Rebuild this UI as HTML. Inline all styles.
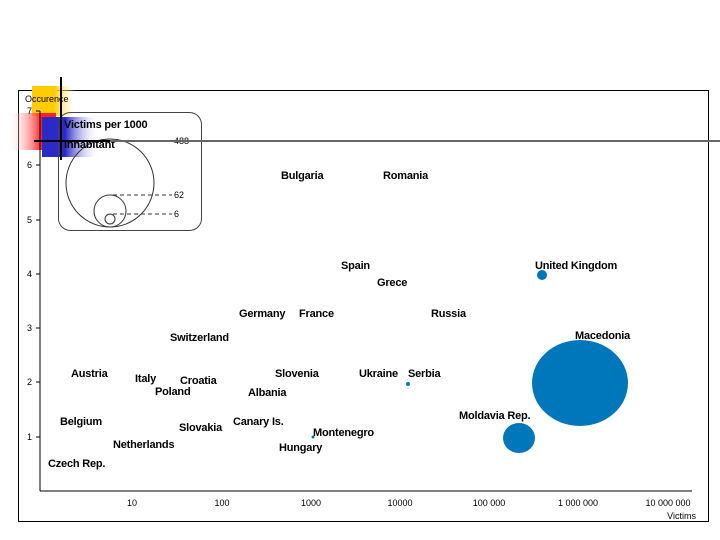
<!DOCTYPE html>
<html><head><style>
body{margin:0;background:#fff;width:720px;height:540px;overflow:hidden;position:relative;font-family:"Liberation Sans",sans-serif}
svg{position:absolute;left:0;top:0}
.l{font-weight:bold;font-size:11px;fill:#000;letter-spacing:-0.2px}
.t{font-size:9px;fill:#000}
</style></head><body>
<svg width="720" height="540" viewBox="0 0 720 540">
<defs>
<linearGradient id="y" x1="0" x2="1"><stop offset="0.5" stop-color="#ffcc00"/><stop offset="1" stop-color="#fff" stop-opacity="0"/></linearGradient>
<linearGradient id="r" x1="1" x2="0"><stop offset="0.3" stop-color="#ff2020"/><stop offset="1" stop-color="#fff" stop-opacity="0"/></linearGradient>
<linearGradient id="b" x1="0" x2="1"><stop offset="0.4" stop-color="#2a2ac8"/><stop offset="1" stop-color="#fff" stop-opacity="0"/></linearGradient>
</defs>
<rect x="18.5" y="90.5" width="690" height="431" fill="none" stroke="#000"/>
<rect x="32" y="86" width="45" height="30" fill="url(#y)"/>
<rect x="8" y="113" width="48" height="37" fill="url(#r)"/>
<rect x="42" y="117" width="58" height="40" fill="url(#b)"/>
<text x="25" y="102" class="t">Occurence</text>
<line x1="40" y1="111" x2="40" y2="491" stroke="#000"/>
<line x1="40" y1="491" x2="692" y2="491" stroke="#000"/>
<g class="t" text-anchor="end">
<text x="32" y="114">7</text><text x="32" y="168">6</text><text x="32" y="223">5</text><text x="32" y="277">4</text><text x="32" y="331">3</text><text x="32" y="385">2</text><text x="32" y="440">1</text>
</g>
<g stroke="#000"><line x1="36" y1="111" x2="40" y2="111"/><line x1="36" y1="165" x2="40" y2="165"/><line x1="36" y1="220" x2="40" y2="220"/><line x1="36" y1="274" x2="40" y2="274"/><line x1="36" y1="328" x2="40" y2="328"/><line x1="36" y1="382" x2="40" y2="382"/><line x1="36" y1="437" x2="40" y2="437"/></g>
<g class="t" text-anchor="middle">
<text x="132" y="506">10</text><text x="222" y="506">100</text><text x="311" y="506">1000</text><text x="400" y="506">10000</text><text x="489" y="506">100 000</text><text x="578" y="506">1 000 000</text><text x="668" y="506">10 000 000</text>
</g>
<text x="696" y="519" class="t" text-anchor="end">Victims</text>
<rect x="58.5" y="112.5" width="143" height="118" rx="12" fill="none" stroke="#444"/>
<circle cx="110" cy="183" r="44" fill="none" stroke="#333"/>
<circle cx="110" cy="211" r="16" fill="none" stroke="#333"/>
<circle cx="110" cy="219" r="5" fill="none" stroke="#333"/>
<g stroke="#333" stroke-dasharray="4,3"><line x1="110" y1="141" x2="172" y2="141"/><line x1="113" y1="195" x2="172" y2="195"/><line x1="113" y1="214" x2="172" y2="214"/></g>
<g class="t"><text x="174" y="144">488</text><text x="174" y="198">62</text><text x="174" y="217">6</text></g>
<text x="64" y="128" class="l">Victims per 1000</text>
<text x="64" y="148" class="l">inhabitant</text>
<line x1="61" y1="77" x2="61" y2="160" stroke="#000" stroke-width="2"/>
<line x1="34" y1="141" x2="110" y2="141" stroke="#000" stroke-width="2"/>
<line x1="110" y1="141" x2="720" y2="141" stroke="#666" stroke-width="2"/>
<g fill="#0077bb">
<ellipse cx="580" cy="383" rx="48" ry="43"/>
<ellipse cx="519" cy="438" rx="16" ry="15"/>
<circle cx="542" cy="275" r="5"/>
<circle cx="408" cy="384" r="2"/>
<circle cx="313" cy="437" r="1.5"/>
</g>
<g class="l">
<text x="281" y="179">Bulgaria</text><text x="383" y="179">Romania</text>
<text x="341" y="269">Spain</text><text x="377" y="286">Grece</text><text x="535" y="269">United Kingdom</text>
<text x="239" y="317">Germany</text><text x="299" y="317">France</text><text x="431" y="317">Russia</text>
<text x="170" y="341">Switzerland</text><text x="575" y="339">Macedonia</text>
<text x="71" y="377">Austria</text><text x="135" y="382">Italy</text><text x="180" y="384">Croatia</text>
<text x="275" y="377">Slovenia</text><text x="359" y="377">Ukraine</text><text x="408" y="377">Serbia</text>
<text x="155" y="395">Poland</text><text x="248" y="396">Albania</text>
<text x="459" y="419">Moldavia Rep.</text>
<text x="60" y="425">Belgium</text><text x="233" y="425">Canary Is.</text><text x="179" y="431">Slovakia</text>
<text x="313" y="436">Montenegro</text><text x="113" y="448">Netherlands</text><text x="279" y="451">Hungary</text>
<text x="48" y="467">Czech Rep.</text>
</g>
</svg>
</body></html>
